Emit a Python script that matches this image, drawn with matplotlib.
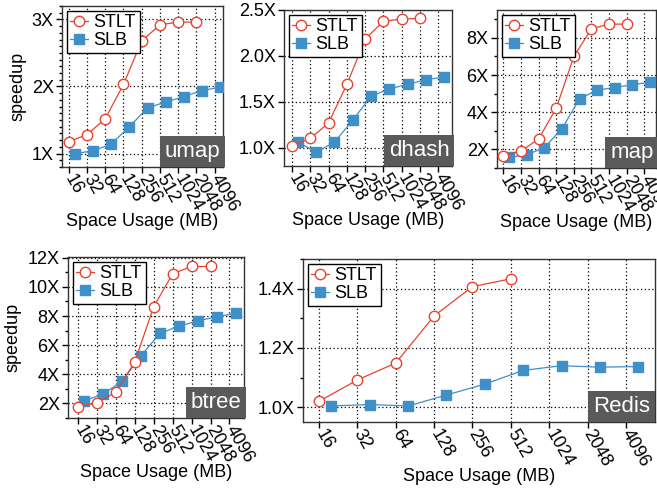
import matplotlib
matplotlib.use("Agg")
import matplotlib.pyplot as plt
from matplotlib.ticker import FixedLocator, MultipleLocator, FuncFormatter
import numpy as np

plt.rcParams['font.family'] = ['Liberation Sans', 'DejaVu Sans']

# ---- data ----
tick_sizes = [16, 32, 64, 128, 256, 512, 1024, 2048, 4096]
tick_labels = ['16', '32', '64', '128', '256', '512', '1024', '2048', '4096']
stlt_sizes = [16, 32, 64, 128, 256, 512, 1024, 2048]
slb_sizes = [20, 40, 80, 160, 320, 640, 1280, 2560, 5120]
redis_stlt_sizes = [16, 32, 64, 128, 256, 512]

umap_stlt = [1.18, 1.28, 1.52, 2.03, 2.68, 2.92, 2.96, 2.96]
umap_slb = [1.00, 1.04, 1.14, 1.40, 1.68, 1.77, 1.85, 1.94, 1.99]
dhash_stlt = [1.02, 1.10, 1.27, 1.69, 2.18, 2.38, 2.40, 2.41]
dhash_slb = [1.06, 0.95, 1.06, 1.30, 1.56, 1.64, 1.69, 1.74, 1.77]
map_stlt = [1.66, 1.91, 2.56, 4.22, 7.00, 8.49, 8.74, 8.74]
map_slb = [1.57, 1.71, 2.09, 3.11, 4.72, 5.19, 5.33, 5.48, 5.62]
btree_stlt = [1.77, 2.05, 2.77, 4.86, 8.64, 10.9, 11.4, 11.4]
btree_slb = [2.18, 2.64, 3.52, 5.27, 6.80, 7.30, 7.66, 7.95, 8.18]
redis_stlt = [1.020, 1.092, 1.149, 1.308, 1.407, 1.433]
redis_slb = [1.004, 1.009, 1.004, 1.041, 1.078, 1.124, 1.140, 1.135, 1.137]

RED = '#e8432f'
BLUE = '#3f8fc8'
FS = 13

W, H = 657, 490
fig = plt.figure(figsize=(W / 100, H / 100), dpi=100)


def make_ax(l, r, t, b):
    return fig.add_axes([l / W, 1 - b / H, (r - l) / W, (b - t) / H])


def setup(ax, stlt_x, stlt_y, slb_x, slb_y, name, ylim, yticks, fmt, minor,
          xlim_idx, ylabel=False):
    ax.set_xscale('log', base=2)
    ax.plot(stlt_x, stlt_y, '-o', color=RED, lw=0.9, ms=7.5, mfc='white',
            mec=RED, mew=1.0, label='STLT', zorder=4)
    ax.plot(slb_x, slb_y, '-s', color=BLUE, lw=0.9, ms=6.5, mfc=BLUE,
            mec=BLUE, label='SLB', zorder=3)
    ax.set_xlim(16 * 2 ** xlim_idx[0], 16 * 2 ** xlim_idx[1])
    ax.set_ylim(*ylim)
    ax.xaxis.set_major_locator(FixedLocator(tick_sizes))
    ax.xaxis.set_minor_locator(FixedLocator([]))
    ax.set_xticklabels(tick_labels)
    for lab in ax.get_xticklabels():
        lab.set_rotation(-60)
        lab.set_rotation_mode('anchor')
        lab.set_ha('left')
        lab.set_va('center')
    ax.yaxis.set_major_locator(FixedLocator(yticks))
    ax.yaxis.set_major_formatter(FuncFormatter(lambda v, p: fmt.format(v)))
    if minor:
        ax.yaxis.set_minor_locator(MultipleLocator(minor))
    ax.tick_params(axis='both', which='major', direction='out', length=4,
                   width=1, labelsize=FS, pad=2)
    ax.tick_params(axis='x', which='major', pad=2)
    ax.tick_params(axis='y', which='minor', direction='out', length=2.5,
                   width=1)
    ax.grid(True, which='major', linestyle=(0, (1, 2)), color='black',
            lw=0.9)
    for s in ax.spines.values():
        s.set_color('#333333')
        s.set_linewidth(1.0)
    ax.set_xlabel('Space Usage (MB)', fontsize=FS, labelpad=-1)
    if ylabel:
        ax.set_ylabel('speedup', fontsize=FS, labelpad=4)
    leg = ax.legend(loc='upper left', fontsize=FS, frameon=True,
                    fancybox=False, borderpad=0.2, handlelength=1.0,
                    handletextpad=0.3, labelspacing=0.05,
                    borderaxespad=0.25)
    leg.get_frame().set_edgecolor('black')
    leg.get_frame().set_linewidth(1.0)
    leg.get_frame().set_alpha(1)
    ax.text(0.985, 0.03, name, transform=ax.transAxes, ha='right',
            va='bottom', color='white', fontsize=16, zorder=6,
            bbox=dict(boxstyle='square,pad=0.22', fc='#5a5a5a', ec='none'))


ax1 = make_ax(62, 223, 6, 167)
setup(ax1, stlt_sizes, umap_stlt, slb_sizes, umap_slb, 'umap', (0.8, 3.2),
      [1, 2, 3], '{:.0f}X', 0.1, (-0.37, 8.46), ylabel=True)

ax2 = make_ax(284, 452, 10, 166)
setup(ax2, stlt_sizes, dhash_stlt, slb_sizes, dhash_slb, 'dhash', (0.8, 2.5),
      [1.0, 1.5, 2.0, 2.5], '{:.1f}X', None, (-0.44, 8.75))

ax3 = make_ax(497, 656, 10, 168)
setup(ax3, stlt_sizes, map_stlt, slb_sizes, map_slb, 'map', (1.0, 9.5),
      [2, 4, 6, 8], '{:.0f}X', 1, (-0.36, 8.66))

ax4 = make_ax(68, 244, 257, 418)
setup(ax4, stlt_sizes, btree_stlt, slb_sizes, btree_slb, 'btree', (1.0, 12.05),
      [2, 4, 6, 8, 10, 12], '{:.0f}X', 1, (-0.53, 8.77), ylabel=True)

ax5 = make_ax(303, 655, 259, 422)
setup(ax5, redis_stlt_sizes, redis_stlt, slb_sizes, redis_slb, 'Redis',
      (0.95, 1.5), [1.0, 1.2, 1.4], '{:.1f}X', 0.1, (-0.42, 8.76))

fig.savefig('out.png', dpi=100)
